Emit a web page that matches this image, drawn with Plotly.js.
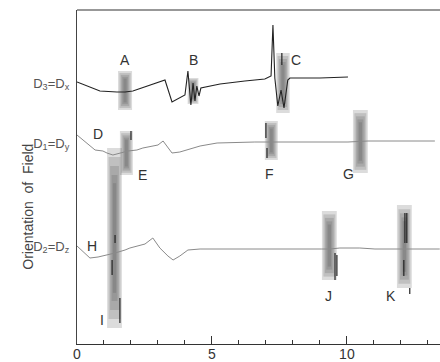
<!DOCTYPE html>
<html><head><meta charset="utf-8">
<script src="https://cdn.plot.ly/plotly-3.0.1.min.js"></script>
<style>html,body{margin:0;padding:0;background:#fff}#chart{width:440px;height:362px}</style>
</head><body><div id="chart"></div>
<script>
// Field values (x) and signal (y, arbitrary units) for each orientation
const xDx = [0,0.41,0.85,1.48,1.78,2.07,2.59,3.07,3.26,3.52,3.74,4.0,4.11,4.22,4.30,4.37,4.44,4.52,4.59,4.93,5.30,6.22,6.96,7.19,7.26,7.33,7.44,7.56,7.67,7.81,7.89,9.0,10.04];
const yDx = [262,258,253,252,252,253,258,262,264,242,245,249,273,239,261,243,258,248,256,258,260,263,265,268,319,266,238,254,236,264,266,266,267];

const xDy = [0,0.67,0.96,1.11,1.33,1.59,1.89,2.22,2.44,3.0,3.19,3.52,3.81,4.56,5.19,6.59,7.2,7.52,10.04,10.78,13.26];
const yDy = [209,194,193,191,189,191,193,194,196,199,203,191,192,198,201,202,202,202,202,203,203];

const xDz = [0,0.48,0.78,1.15,1.41,1.78,1.96,2.52,2.81,3.07,3.37,3.56,3.81,4.11,4.56,9.07,9.37,9.74,10.48,11.04,11.85,12.15,12.44,13.44];
const yDz = [98,86,87,89,91,94,96,100,106,96,88,84,88,94,95,95,95,96,96,95,95,95,95,95];

// Resonance bands (smeared absorption regions)
const bandX = [1.78,4.30,7.63,1.83,7.20,10.50,1.39,9.35,12.13];
const bandLow = [234,240,231,169,184,171,16,64,56];
const bandHigh = [273,266,291,213,223,234,196,133,139];
const bandWidth = [0.52,0.40,0.50,0.48,0.48,0.55,0.55,0.55,0.55];

// Dark line features inside bands
const spikeX = [2.0,2.0,null,7.0,7.0,null,7.04,7.04,null,7.59,7.59,null,9.56,9.56,null,9.63,9.63,null,12.15,12.15,null,12.22,12.22,null,12.11,12.11,null,12.33,12.33,null,1.41,1.41,null,1.59,1.59,null,1.30,1.30];
const spikeY = [213,204,null,221,206,null,196,186,null,291,279,null,91,64,null,89,68,null,131,101,null,131,101,null,84,68,null,56,50,null,109,101,null,46,21,null,84,69];

const peakLabels = ['A','B','C','D','E','F','G','H','I','J','K'];
const peakLabelX = [1.78,4.33,8.11,0.78,2.41,7.15,10.07,0.56,0.93,9.3,11.63];
const peakLabelY = [284,284,284,210,169,170,170,98,24,48,48];

const orientVals = [261,201,98];
const orientText = ['D<sub>3</sub>=D<sub>x</sub>','D<sub>1</sub>=D<sub>y</sub>','D<sub>2</sub>=D<sub>z</sub>'];

// layered translucent bars give a soft, smeared look to each band
const layers = [1.0,0.8,0.6,0.4,0.22];
const bandTraces = layers.map(f=>{
  const shrink = (1-f)*0.25;
  return {type:'bar',x:bandX,
    base:bandLow.map((l,i)=>l+shrink*(bandHigh[i]-l)),
    y:bandHigh.map((h,i)=>(h-bandLow[i])*(1-2*shrink)),
    width:bandWidth.map(w=>w*f),
    marker:{color:'rgba(80,80,80,0.2)',line:{width:0}},hoverinfo:'skip'};
});

const traces = bandTraces.concat([
  {type:'scatter',mode:'lines',x:xDx,y:yDx,line:{color:'#222',width:1.1}},
  {type:'scatter',mode:'lines',x:xDy,y:yDy,line:{color:'#8a8a8a',width:1}},
  {type:'scatter',mode:'lines',x:xDz,y:yDz,line:{color:'#8a8a8a',width:1}},
  {type:'scatter',mode:'lines',x:spikeX,y:spikeY,line:{color:'#222',width:1.2},connectgaps:false}
]);

const fam = 'Liberation Sans, Arial, sans-serif';
const annotations = peakLabels.map((t,i)=>({x:peakLabelX[i],y:peakLabelY[i],text:t,showarrow:false,font:{family:fam,size:14,color:'#333'}}));
annotations.push({xref:'paper',yref:'paper',x:-0.1625,y:0.411,text:'Orientation  of  Field',textangle:-90,showarrow:false,font:{family:fam,size:14,color:'#444'}});

const layout = {
  width:440,height:362,
  margin:{l:77,r:0,t:10,b:18},
  paper_bgcolor:'#fff',plot_bgcolor:'#fff',
  showlegend:false,barmode:'overlay',
  font:{family:fam,size:13,color:'#333'},
  xaxis:{range:[0,13.45],tick0:0,dtick:5,ticks:'inside',ticklen:8,tickcolor:'#333',
    minor:{dtick:1,ticks:'inside',ticklen:4,tickcolor:'#333'},
    showline:true,linecolor:'#333',linewidth:1.3,showgrid:false,zeroline:false,
    tickfont:{family:fam,size:14,color:'#333'},ticklabelstandoff:-3},
  yaxis:{range:[0,334],showline:true,linecolor:'#444',linewidth:1.2,showgrid:false,zeroline:false,
    tickvals:orientVals,ticktext:orientText,ticks:'',tickfont:{family:fam,size:13,color:'#555'},ticklabelstandoff:4},
  shapes:[{type:'line',xref:'paper',yref:'paper',x0:0,x1:1,y0:1,y1:1,line:{color:'#333',width:1.2}}],
  annotations:annotations
};
Plotly.newPlot('chart',traces,layout,{displayModeBar:false,staticPlot:true});
</script></body></html>
